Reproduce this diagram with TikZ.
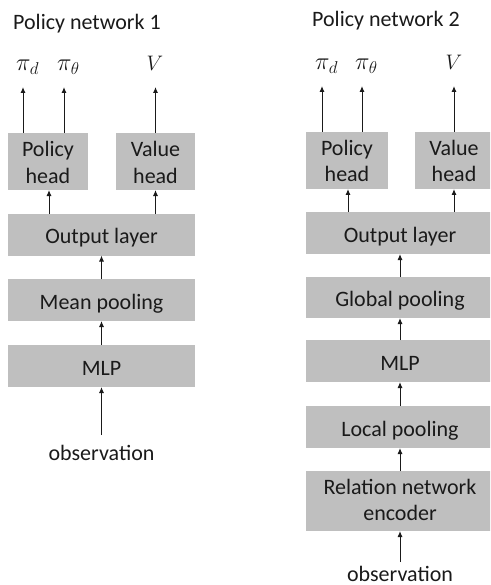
\RequirePackage{fix-cm}
\documentclass[tikz,border=0pt]{standalone}
\usepackage{fontspec}
\setmainfont{Carlito}
\usetikzlibrary{arrows.meta}
\definecolor{boxgray}{RGB}{191,191,191}
\definecolor{ink}{RGB}{26,26,26}
\begin{document}
\begin{tikzpicture}[x=1pt,y=-1pt,
  font=\fontsize{22}{26}\selectfont, text=ink,
  box/.style={fill=boxgray, draw=none, inner sep=0pt, outer sep=0pt, minimum height=42pt, text height=18pt, text depth=0pt},
  wide/.style={box, minimum width=188pt},
  headbox/.style={box, minimum height=57pt, align=center, text height=43pt, text depth=0pt},
  arr/.style={draw=ink, line width=1pt, -{Latex[length=6pt,width=5pt]}},
  lbl/.style={inner sep=0pt, anchor=base},
  pilbl/.style={lbl, anchor=base west, font=\fontsize{24.5}{28}\selectfont},
  vlbl/.style={lbl, font=\fontsize{21}{25}\selectfont},
]
\useasboundingbox (0,0) rectangle (490,585);
\clip (0,0) rectangle (490,585);

% ---------- Policy network 1 ----------
\node[lbl, anchor=base west] (title1) at (13,30) {Policy network 1};
\node[pilbl] (pd1) at (16,71) {$\pi_d$};
\node[pilbl] (pt1) at (57,71) {$\pi_\theta$};
\node[vlbl] (v1) at (155,71) {$V$};
\coordinate (pd1tip) at (23,87);
\coordinate (pt1tip) at (64,87);
\coordinate (v1tip) at (155.5,87);

\node[headbox, minimum width=80pt] (ph1) at (48,161.5) {Policy\\head};
\node[headbox, minimum width=79pt] (vh1) at (155.5,161.5) {Value\\head};
\node[wide, minimum width=187pt] (out1) at (101.5,234.5) {Output layer};
\node[wide, minimum width=187pt] (mean1) at (101.5,300) {Mean pooling};
\node[wide, minimum width=187pt] (mlp1) at (101.5,366) {MLP};
\node[lbl] (obs1) at (101.5,460) {observation};
\coordinate (obs1start) at (101.5,435);

\draw[arr] (obs1start) -- (mlp1);
\draw[arr] (mlp1) -- (mean1);
\draw[arr] (mean1) -- (out1);
\draw[arr] (out1.north -| 49,0) -- (ph1.south -| 49,0);
\draw[arr] (out1.north -| vh1) -- (vh1);
\draw[arr] (ph1.north -| pd1tip) -- (pd1tip);
\draw[arr] (ph1.north -| pt1tip) -- (pt1tip);
\draw[arr] (vh1) -- (v1tip);

% ---------- Policy network 2 ----------
\node[lbl, anchor=base west] (title2) at (312,27) {Policy network 2};
\node[pilbl] (pd2) at (315,70) {$\pi_d$};
\node[pilbl] (pt2) at (355,70) {$\pi_\theta$};
\node[vlbl] (v2) at (454,70) {$V$};
\coordinate (pd2tip) at (322,86);
\coordinate (pt2tip) at (362,86);
\coordinate (v2tip) at (454,86);

\node[headbox, minimum width=82pt] (ph2) at (347,160.5) {Policy\\head};
\node[headbox, minimum width=79pt] (vh2) at (454,160.5) {Value\\head};
\node[wide] (out2) at (400,233) {Output layer};
\node[wide, minimum height=41pt] (gp2) at (400,297.5) {Global pooling};
\node[wide] (mlp2) at (400,361) {MLP};
\node[wide] (lp2) at (400,427) {Local pooling};
\node[headbox, minimum width=188pt, minimum height=60pt, text height=39.5pt] (rel2) at (400,501) {Relation network\\encoder};
\node[lbl] (obs2) at (400,581) {observation};
\coordinate (obs2start) at (400,562);

\draw[arr] (obs2start) -- (rel2);
\draw[arr] (rel2) -- (lp2);
\draw[arr] (lp2) -- (mlp2);
\draw[arr] (mlp2) -- (gp2);
\draw[arr] (gp2) -- (out2);
\draw[arr] (out2.north -| 348,0) -- (ph2.south -| 348,0);
\draw[arr] (out2.north -| vh2) -- (vh2);
\draw[arr] (ph2.north -| pd2tip) -- (pd2tip);
\draw[arr] (ph2.north -| pt2tip) -- (pt2tip);
\draw[arr] (vh2) -- (v2tip);
\end{tikzpicture}
\end{document}
